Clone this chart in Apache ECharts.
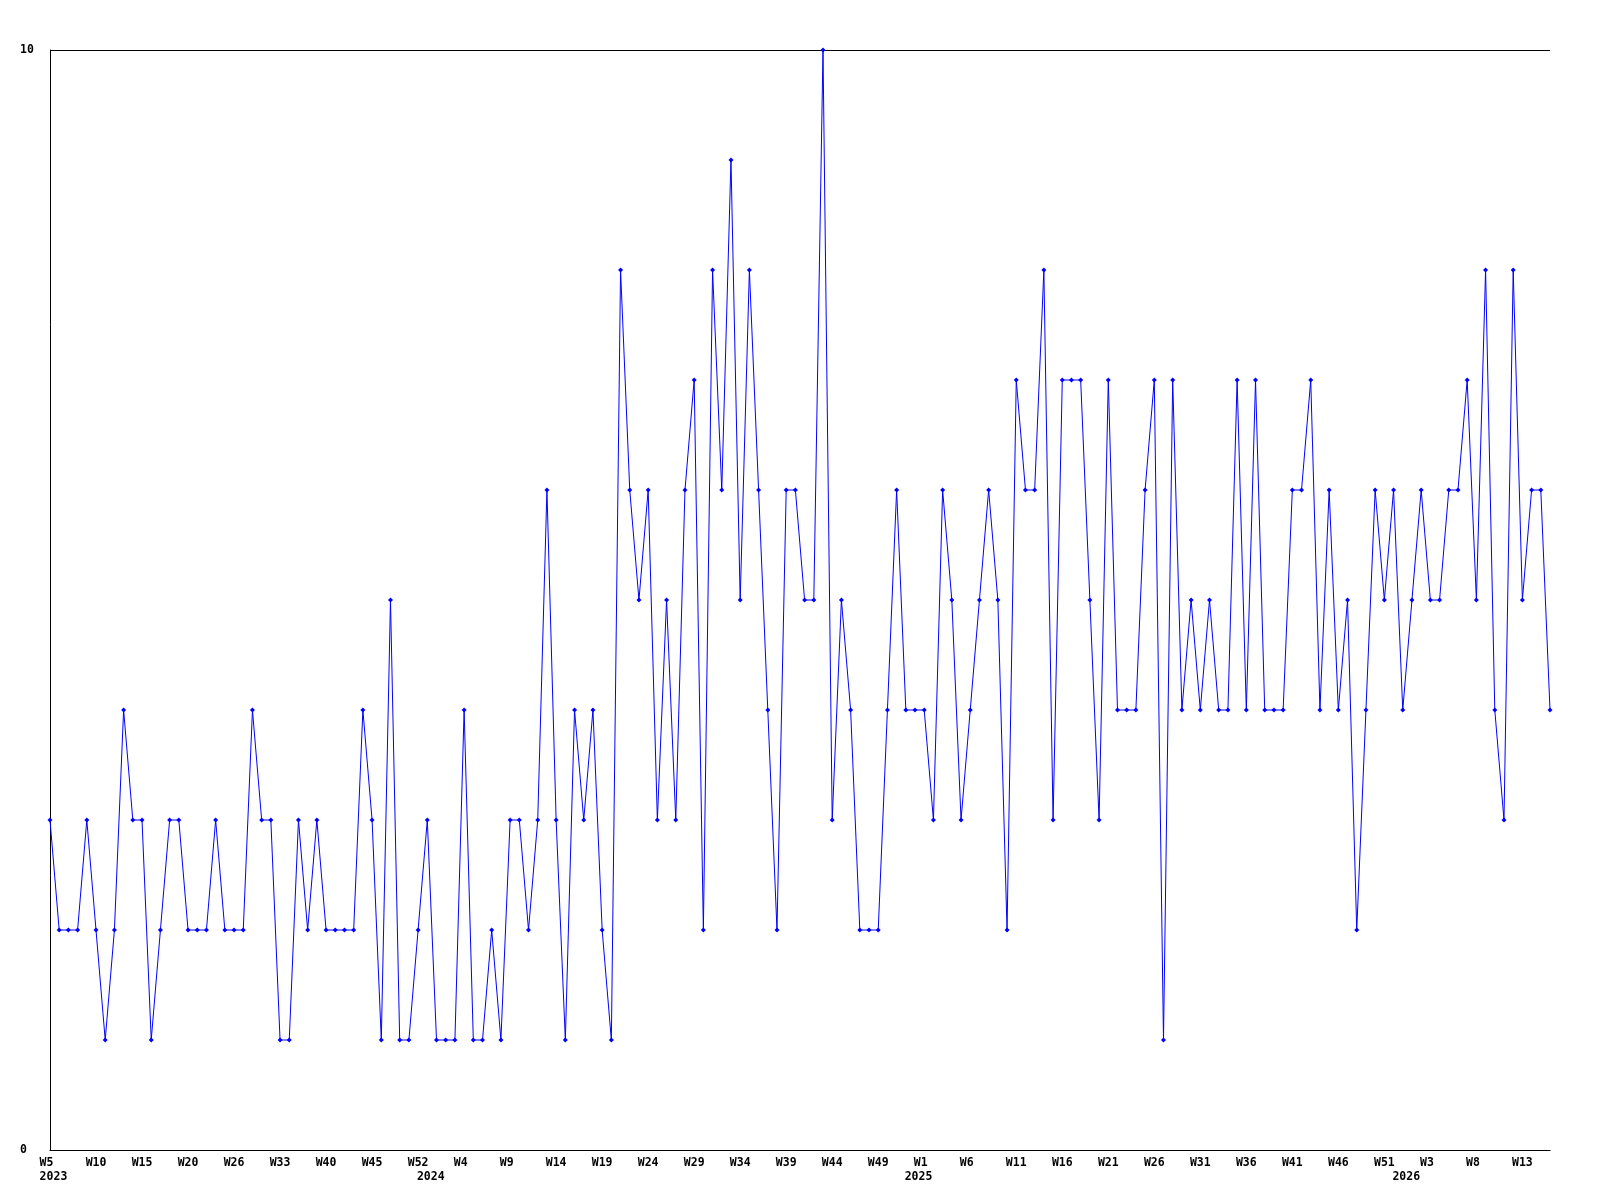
<!DOCTYPE html>
<html>
<head>
<meta charset="utf-8">
<script src="https://cdn.jsdelivr.net/npm/echarts@6/dist/echarts.min.js"></script>
<style>
  html, body { margin: 0; padding: 0; background: #ffffff; }
  #chart { width: 1600px; height: 1200px; }
</style>
</head>
<body>
<div id="chart"></div>
<script>
// Week numbers present in the data, per year (categories of the x axis)
var weeks2023 = [5,6,7,8,9,10,11,12,13,14,15,16,17,18,19,20,21,22,24,25,26,27,28,30,32,33,34,36,37,39,40,41,42,43,44,45,46,47,49,50,52];
var weeks2024 = [0,1,2,3,4,5,6,7,8,9,10,11,12,13,14,15,16,17,18,19,20,21,22,23,24,25,26,27,28,29,30,31,32,33,34,35,36,37,38,39,40,41,42,43,44,45,46,47,48,49,50,51,52];
var weeks2025 = [0,1,2,3,4,5,6,7,8,9,10,11,12,13,14,15,16,17,18,19,20,21,22,23,24,25,26,27,28,29,30,31,32,33,34,35,36,37,38,39,40,41,42,43,44,45,46,47,48,49,50,51,52];
var weeks2026 = [0,1,2,3,4,5,6,7,8,9,10,11,12,13,14,15,16];

// Series values (one per category)
var values = [
  3,2,2,2,3,2,1,2,4,3,3,1,2,3,3,2,2,2,3,2,
  2,2,4,3,3,1,1,3,2,3,2,2,2,2,4,3,1,5,1,1,
  2,3,1,1,1,4,1,1,2,1,3,3,2,3,6,3,1,4,3,4,
  2,1,8,6,5,6,3,5,3,6,7,2,8,6,9,5,8,6,4,2,
  6,6,5,5,10,3,5,4,2,2,2,4,6,4,4,4,3,6,5,3,
  4,5,6,5,2,7,6,6,8,3,7,7,7,5,3,7,4,4,4,6,
  7,1,7,4,5,4,5,4,4,7,4,7,4,4,4,6,6,7,4,6,
  4,5,2,4,6,5,6,4,5,6,5,5,6,6,7,5,8,4,3,8,
  5,6,6,4
];

// y tick labels
var yTicks = [0, 10];

var categories = [];
function addYear(y, arr) { arr.forEach(function (w) { categories.push(y + '-W' + w); }); }
addYear(2023, weeks2023);
addYear(2024, weeks2024);
addYear(2025, weeks2025);
addYear(2026, weeks2026);

function yearOf(i) { return categories[i].split('-')[0]; }
function weekOf(i) { return categories[i].split('-')[1]; }
function yearStarts(i) { return i === 0 || yearOf(i) !== yearOf(i - 1); }
function pad3(s) { while (s.length < 3) s += ' '; return s; }

var chart = echarts.init(document.getElementById('chart'), null, { renderer: 'canvas' });
chart.setOption({
  animation: false,
  backgroundColor: '#ffffff',
  grid: { left: 50, right: 50, top: 50, bottom: 50, containLabel: false },
  xAxis: {
    type: 'category',
    data: categories,
    boundaryGap: false,
    axisLine: { show: true, lineStyle: { color: '#000000', width: 1 } },
    axisTick: { show: false },
    splitLine: { show: false },
    axisLabel: {
      show: true,
      margin: 6,
      interval: function (index) { return index % 5 === 0 || yearStarts(index); },
      formatter: function (value, index) {
        var top = (index % 5 === 0) ? pad3(weekOf(index)) : '   ';
        var bottom = yearStarts(index) ? ' ' + yearOf(index) : '';
        return top + '\n' + bottom;
      },
      fontFamily: 'DejaVu Sans Mono',
      fontWeight: 'bold',
      fontSize: 11.5,
      lineHeight: 14,
      color: '#000000'
    }
  },
  yAxis: {
    type: 'value',
    min: yTicks[0],
    max: yTicks[yTicks.length - 1],
    interval: yTicks[1] - yTicks[0],
    axisLine: { show: true, lineStyle: { color: '#000000', width: 1 } },
    axisTick: { show: false },
    splitLine: { show: true, lineStyle: { color: '#000000', width: 1 } },
    axisLabel: {
      show: true,
      align: 'left',
      margin: 30,
      fontFamily: 'DejaVu Sans Mono',
      fontWeight: 'bold',
      fontSize: 11.5,
      color: '#000000'
    }
  },
  series: [{
    type: 'line',
    data: values,
    showSymbol: true,
    showAllSymbol: true,
    symbol: 'diamond',
    symbolSize: 5,
    itemStyle: { color: '#0000ff' },
    lineStyle: { color: '#0000ff', width: 1 },
    emphasis: { disabled: true }
  }]
});
</script>
</body>
</html>
